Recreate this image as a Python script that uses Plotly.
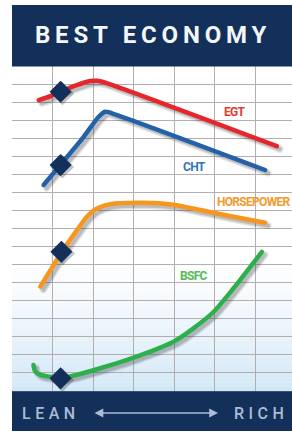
import numpy as np
import plotly.graph_objects as go

# ---- data (x: lean -> rich grid columns, y: relative value in grid rows) ----
egt_x = [0.66, 0.95, 1.19, 1.60, 1.93, 2.10, 2.35, 6.54]
egt_y = [16.11, 16.33, 16.57, 16.94, 17.17, 17.18, 17.04, 13.56]

cht_x = [0.78, 1.19, 1.77, 2.14, 2.30, 2.47, 6.25]
cht_y = [11.41, 12.51, 14.08, 15.19, 15.47, 15.38, 12.24]

hp_x = [0.70, 1.235, 1.605, 1.85, 2.06, 2.43, 3.25, 3.99, 4.65, 5.47, 6.25]
hp_y = [5.78, 7.71, 8.91, 9.65, 10.06, 10.35, 10.43, 10.32, 10.02, 9.65, 9.32]

bsfc_x = [0.53, 0.575, 0.70, 0.95, 1.19, 1.60, 2.18, 2.84, 3.41, 3.99, 4.48, 4.98, 5.47, 6.17]
bsfc_y = [1.44, 1.07, 0.89, 0.79, 0.70, 0.89, 1.26, 1.72, 2.18, 2.73, 3.47, 4.39, 5.69, 7.71]

best_x = [1.2, 1.2, 1.22, 1.2]
best_y = [16.57, 12.51, 7.71, 0.70]

labels = ["EGT", "CHT", "HORSEPOWER", "BSFC"]
label_x = [5.51, 4.51, 5.98, 4.49]
label_y = [15.45, 12.38, 10.47, 6.37]

title_text = "BEST ECONOMY"
lean_text = "LEAN"
rich_text = "RICH"

# ---- styling ----
NAVY = "#13305a"
line_colors = ["#e5262a", "#2361a9", "#f7961d", "#2db04b"]
label_colors = ["#e03a32", "#3674b8", "#f39a2c", "#55b955"]
series = [(egt_x, egt_y), (cht_x, cht_y), (hp_x, hp_y), (bsfc_x, bsfc_y)]

W, H = 292, 433
ML, MR, MT, MB = 12, 0, 66, 42
px_x = 40.5
px_y = (H - MT - MB) / 18.0
XMAX = (W - ML - MR) / px_x

fig = go.Figure()

# drop shadows
dx, dy = 3.0 / px_x, -3.0 / px_y
for (xs, ys) in series:
    fig.add_trace(go.Scatter(
        x=np.array(xs) + dx, y=np.array(ys) + dy, mode="lines",
        line=dict(color="rgba(60,60,70,0.16)", width=7, shape="spline", smoothing=0.7),
        hoverinfo="skip", showlegend=False))
    fig.add_trace(go.Scatter(
        x=np.array(xs) + dx, y=np.array(ys) + dy, mode="lines",
        line=dict(color="rgba(60,60,70,0.22)", width=4, shape="spline", smoothing=0.7),
        hoverinfo="skip", showlegend=False))

for (xs, ys), c in zip(series, line_colors):
    fig.add_trace(go.Scatter(
        x=xs, y=ys, mode="lines",
        line=dict(color=c, width=4.5, shape="spline", smoothing=0.7),
        hoverinfo="skip", showlegend=False))

# best economy diamonds
fig.add_trace(go.Scatter(
    x=np.array(best_x) + dx * 0.6, y=np.array(best_y) + dy * 0.6, mode="markers",
    marker=dict(symbol="diamond", size=18, color="rgba(40,40,50,0.28)"),
    hoverinfo="skip", showlegend=False))
fig.add_trace(go.Scatter(
    x=best_x, y=best_y, mode="markers",
    marker=dict(symbol="diamond", size=17, color=NAVY, line=dict(width=0)),
    hoverinfo="skip", showlegend=False))

annotations = []
for t, x, y, c in zip(labels, label_x, label_y, label_colors):
    annotations.append(dict(
        x=x, y=y, xref="x", yref="y",
        text='<span style="letter-spacing:-0.7px">%s</span>' % t, showarrow=False,
        font=dict(family="Roboto", size=12, color=c, weight="bold"),
        xanchor="center", yanchor="middle"))

def py2paper(py):
    return (H - MB - py) / (H - MT - MB)

def px2paper(p):
    return (p - ML) / (W - ML - MR)

annotations.append(dict(
    x=px2paper(153), y=py2paper(35.5), xref="paper", yref="paper",
    text='<span style="letter-spacing:4.8px">%s</span>' % title_text,
    showarrow=False, xanchor="center", yanchor="middle",
    font=dict(family="Roboto", size=24, color="#f4f6f8", weight="bold")))

foot_font = dict(family="Roboto", size=16, color="#a9bdd5", weight=500)
annotations.append(dict(
    x=px2paper(51), y=py2paper(413.5), xref="paper", yref="paper",
    text='<span style="letter-spacing:4.5px">%s</span>' % lean_text,
    showarrow=False, xanchor="center", yanchor="middle", font=foot_font))
annotations.append(dict(
    x=px2paper(261), y=py2paper(413.5), xref="paper", yref="paper",
    text='<span style="letter-spacing:4.5px">%s</span>' % rich_text,
    showarrow=False, xanchor="center", yanchor="middle", font=foot_font))
annotations.append(dict(
    x=px2paper(218), y=py2paper(413), xref="paper", yref="paper",
    ax=-125, ay=0, text="", showarrow=True, arrowside="end+start",
    arrowhead=2, arrowsize=1.1, arrowwidth=1.6, arrowcolor="#a9bdd5", standoff=0, startstandoff=0))

shapes = []
# light blue gradient at the bottom of the grid
N = 30
for i in range(N):
    y0 = 7.0 * i / N
    y1 = 7.0 * (i + 1) / N
    a = 0.8 * (1 - i / N) ** 1.2
    shapes.append(dict(type="rect", xref="paper", yref="y", x0=0, x1=1, y0=y0, y1=y1,
                       fillcolor="rgba(200,226,245,%.3f)" % a, line=dict(width=0), layer="below"))
# header and footer bands
shapes.append(dict(type="rect", xref="paper", yref="paper", x0=0, x1=1,
                   y0=py2paper(66.5), y1=py2paper(5), fillcolor=NAVY, line=dict(width=0)))
shapes.append(dict(type="rect", xref="paper", yref="paper", x0=0, x1=1,
                   y0=py2paper(431), y1=py2paper(391.3), fillcolor=NAVY, line=dict(width=0)))

GRID = "#b3adad"
fig.update_layout(
    width=W, height=H,
    margin=dict(l=ML, r=MR, t=MT, b=MB, pad=0),
    paper_bgcolor="white", plot_bgcolor="white",
    showlegend=False,
    xaxis=dict(range=[0, XMAX], dtick=1, tick0=0, showgrid=True, gridcolor=GRID,
               gridwidth=1, zeroline=False, showticklabels=False, ticks="",
               showline=True, linecolor=GRID, mirror=False, fixedrange=True),
    yaxis=dict(range=[0, 18], dtick=1, tick0=0, showgrid=True, gridcolor=GRID,
               gridwidth=1, zeroline=False, showticklabels=False, ticks="",
               showline=False, fixedrange=True),
    annotations=annotations,
    shapes=shapes,
)

fig.write_html(
    "out.html", config={"displayModeBar": False},
    post_script=("document.body.style.margin='0px';document.body.style.overflow='hidden';"
                 "document.querySelectorAll('.js-line').forEach(function(p){p.style.strokeLinecap='round';});"))
